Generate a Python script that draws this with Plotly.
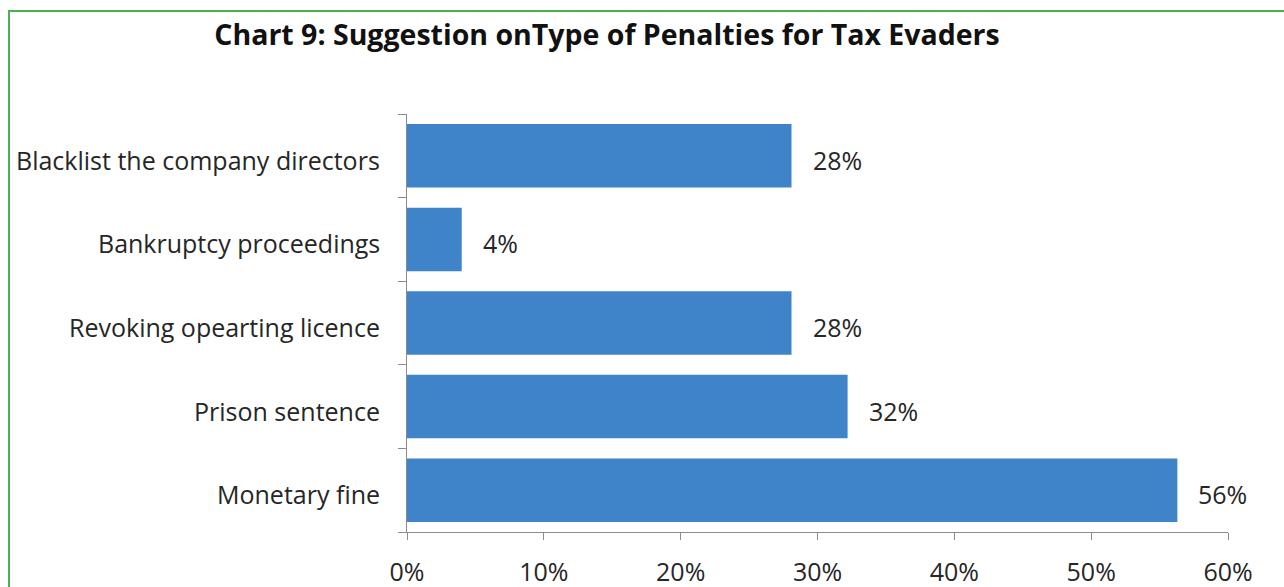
import plotly.graph_objects as go

categories = ["Monetary fine", "Prison sentence", "Revoking opearting licence",
              "Bankruptcy proceedings", "Blacklist the company directors"]
values = [0.563, 0.322, 0.281, 0.040, 0.281]
value_labels = ["56%", "32%", "28%", "4%", "28%"]
x_ticks = [0, 0.1, 0.2, 0.3, 0.4, 0.5, 0.6]
x_tick_labels = ["0%", "10%", "20%", "30%", "40%", "50%", "60%"]

W, H = 1284, 587
L, R, T, B = 407, 56, 114, 55
pw, ph = W - L - R, H - T - B
FONT = "Open Sans"
FS = 25

fig = go.Figure()
fig.add_trace(go.Bar(
    x=values, y=categories, orientation="h",
    marker=dict(color="#3F83C8", line=dict(width=0)),
    width=0.76, hoverinfo="skip",
))

for c, v, t in zip(categories, values, value_labels):
    fig.add_annotation(x=v, y=c, text=t, showarrow=False, xanchor="left",
                       xshift=19, yshift=-4,
                       font=dict(size=FS, color="#262626", family=FONT))
    # category label to the left of the axis
    fig.add_annotation(x=0, y=c, text=c, showarrow=False, xanchor="right",
                       xshift=-25, yshift=-4,
                       font=dict(size=FS, color="#262626", family=FONT))

# outer green frame
fig.add_shape(type="rect", xref="paper", yref="paper",
              x0=(9 - L) / pw, x1=(W + 20 - L) / pw,
              y0=-(H + 20 - (T + ph)) / ph, y1=(T + ph - 11) / ph,
              line=dict(color="#4CAF50", width=2), fillcolor="rgba(0,0,0,0)", layer="below")

fig.update_layout(
    width=W, height=H,
    margin=dict(l=L, r=R, t=T, b=B, pad=0),
    paper_bgcolor="white", plot_bgcolor="white",
    showlegend=False,
    title=dict(text="<b>Chart 9: Suggestion onType of Penalties for Tax Evaders</b>",
               x=607 / W, xref="container", xanchor="center",
               y=1 - 35 / H, yref="container", yanchor="middle",
               font=dict(size=28.5, color="#111111", family=FONT)),
    xaxis=dict(range=[0, 0.6], tickvals=x_ticks, ticktext=x_tick_labels,
               showgrid=False, zeroline=False, showline=True, linecolor="#8C8C8C",
               linewidth=1, ticks="outside", ticklen=7, tickcolor="#8C8C8C",
               tickfont=dict(size=FS, color="#262626", family=FONT),
               ticklabelstandoff=11, automargin=False),
    yaxis=dict(categoryorder="array", categoryarray=categories,
               tickson="boundaries", showgrid=False, zeroline=False,
               showticklabels=False,
               showline=True, linecolor="#8C8C8C", linewidth=1,
               ticks="outside", ticklen=8, tickcolor="#8C8C8C",
               automargin=False),
)

fig.write_html("out.html")
